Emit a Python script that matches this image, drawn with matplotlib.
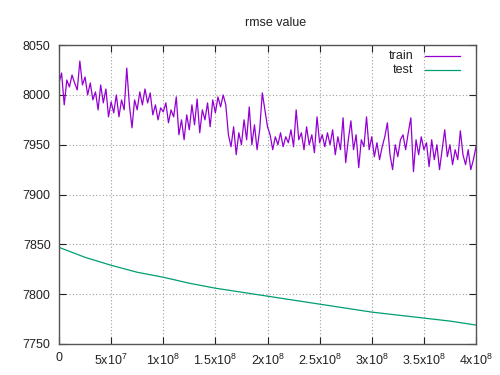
import matplotlib
matplotlib.use("Agg")
import matplotlib.pyplot as plt
from matplotlib.lines import Line2D
import numpy as np

plt.rcParams['font.family'] = ['Liberation Sans', 'DejaVu Sans']
plt.rcParams['mathtext.default'] = 'regular'

train_step = 2.5e6
train_values = [
    8012, 8022, 7990, 8015, 8008, 8020, 8012, 8005, 8034, 8010,
    8018, 8000, 8012, 7995, 8003, 7985, 8010, 7992, 8006, 7978,
    7993, 7982, 8000, 7978, 7995, 7985, 8027, 7990, 7967, 7995,
    7985, 8003, 7990, 8006, 7992, 8002, 7980, 7990, 7975, 7987,
    7983, 7992, 7972, 7985, 7978, 7998, 7960, 7975, 7955, 7980,
    7965, 7990, 7970, 7996, 7962, 7985, 7975, 7992, 7968, 7995,
    7982, 7998, 7988, 8000, 7990, 7960, 7948, 7968, 7940, 7962,
    7950, 7975, 7955, 7988, 7950, 7970, 7945, 7965, 8002, 7985,
    7968, 7960, 7945, 7958, 7950, 7962, 7948, 7958, 7952, 7965,
    7948, 7985, 7955, 7962, 7945, 7968, 7950, 7960, 7942, 7978,
    7952, 7960, 7948, 7962, 7950, 7965, 7940, 7958, 7945, 7977,
    7932, 7955, 7974, 7945, 7960, 7927, 7955, 7948, 7978, 7945,
    7958, 7938, 7952, 7935, 7948, 7958, 7972, 7940, 7925, 7950,
    7938, 7955, 7960, 7945, 7962, 7977, 7923, 7955, 7940, 7958,
    7945, 7952, 7928, 7955, 7935, 7950, 7925, 7945, 7965, 7938,
    7950, 7930, 7945, 7935, 7964, 7940, 7930, 7945, 7925, 7935,
    7948,
]
train_x = np.arange(len(train_values)) * train_step

test_x = [0, 2.5e7, 5e7, 7.5e7, 1e8, 1.25e8, 1.5e8, 1.75e8, 2e8,
          2.25e8, 2.5e8, 2.75e8, 3e8, 3.25e8, 3.5e8, 3.75e8, 4e8]
test_values = [7847, 7837, 7829, 7822, 7817, 7811, 7806, 7802, 7798,
               7794, 7790, 7786, 7782, 7779, 7776, 7773, 7769]

x_ticks = [0, 5e7, 1e8, 1.5e8, 2e8, 2.5e8, 3e8, 3.5e8, 4e8]
x_labels = ['0', r'$5x10^{7}$', r'$1x10^{8}$', r'$1.5x10^{8}$', r'$2x10^{8}$',
            r'$2.5x10^{8}$', r'$3x10^{8}$', r'$3.5x10^{8}$', r'$4x10^{8}$']
y_ticks = [7750, 7800, 7850, 7900, 7950, 8000, 8050]

train_color = '#9400d3'
test_color = '#009e73'

fig = plt.figure(figsize=(5, 3.75), dpi=100)
ax = fig.add_axes([0.118, 0.0827, 0.834, 0.797])

ax.plot(train_x, train_values, color=train_color, lw=0.9)
ax.plot(test_x, test_values, color=test_color, lw=0.9)

ax.set_xlim(0, 4e8)
ax.set_ylim(7750, 8050)
ax.set_xticks(x_ticks)
ax.set_xticklabels(x_labels)
ax.set_yticks(y_ticks)
ax.tick_params(direction='in', length=5, top=True, right=True, labelsize=9,
               colors='#222222', pad=6)
ax.grid(True, linestyle=(0, (1, 2)), color='#a0a0a0', lw=0.8)
for s in ax.spines.values():
    s.set_color('#555555')
    s.set_linewidth(1.0)

ax.set_title('rmse value', fontsize=9, pad=14, color='#222222', x=0.52)

# legend (gnuplot style: right-aligned labels, sample line to the right)
for label, color, yy in [('train', train_color, 0.963), ('test', test_color, 0.916)]:
    ax.text(0.849, yy, label, transform=ax.transAxes, ha='right', va='center',
            fontsize=9, color='#222222')
    ax.add_line(Line2D([0.878, 0.962], [yy, yy], transform=ax.transAxes,
                       color=color, lw=0.9))

fig.savefig('out.png', dpi=100)
